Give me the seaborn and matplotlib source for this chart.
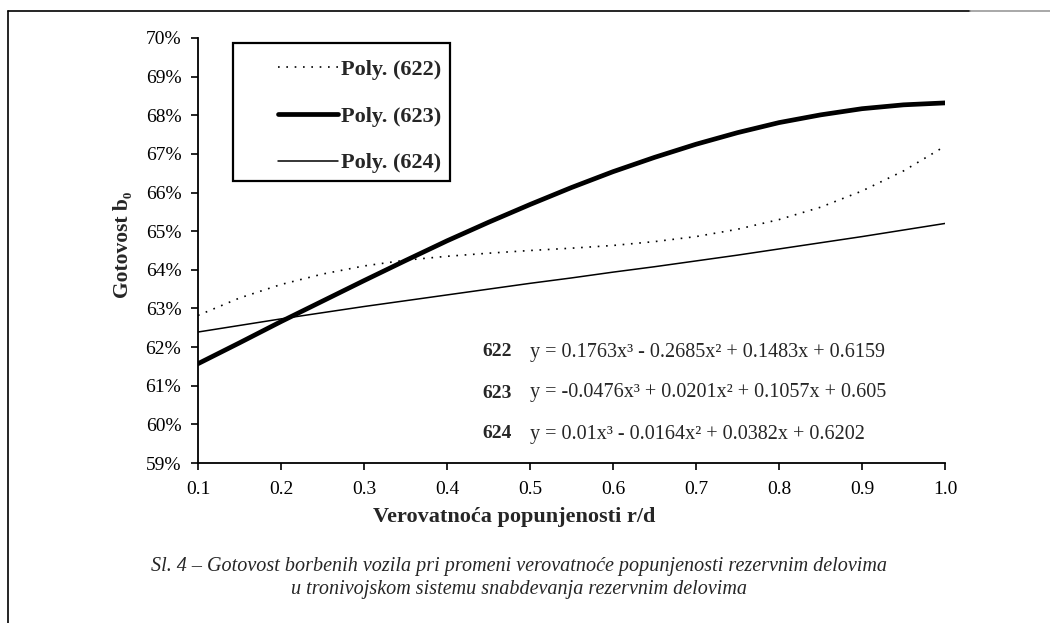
#!/usr/bin/env python3
"""Gotovost borbenih vozila - polinomski trendovi (Sl. 4)."""

import pandas as pd
import matplotlib.pyplot as plt
from matplotlib.lines import Line2D
from matplotlib.patches import Rectangle
from matplotlib.ticker import FuncFormatter
import seaborn as sns

# verovatnoca popunjenosti r/d
x_vals = [0.10, 0.15, 0.20, 0.25, 0.30, 0.35, 0.40, 0.45, 0.50, 0.55,
          0.60, 0.65, 0.70, 0.75, 0.80, 0.85, 0.90, 0.95, 1.00]

# gotovost (%)
poly_622 = [62.82, 63.27, 63.62, 63.89, 64.10, 64.25, 64.35, 64.43, 64.50, 64.56,
            64.63, 64.73, 64.86, 65.05, 65.30, 65.62, 66.04, 66.56, 67.20]
poly_623 = [61.57, 62.11, 62.66, 63.19, 63.72, 64.24, 64.75, 65.23, 65.69, 66.13,
            66.54, 66.91, 67.25, 67.55, 67.81, 68.01, 68.17, 68.27, 68.32]
poly_624 = [62.39, 62.56, 62.73, 62.89, 63.05, 63.20, 63.35, 63.50, 63.65, 63.79,
            63.94, 64.08, 64.23, 64.38, 64.54, 64.70, 64.86, 65.03, 65.20]

series_names = ["Poly. (622)", "Poly. (623)", "Poly. (624)"]
equation_ids = ["622", "623", "624"]
equations = [
    "y = 0.1763x³ - 0.2685x² + 0.1483x + 0.6159",
    "y = -0.0476x³ + 0.0201x² + 0.1057x + 0.605",
    "y = 0.01x³ - 0.0164x² + 0.0382x + 0.6202",
]
x_ticks = [0.1, 0.2, 0.3, 0.4, 0.5, 0.6, 0.7, 0.8, 0.9, 1.0]
y_ticks = [59, 60, 61, 62, 63, 64, 65, 66, 67, 68, 69, 70]

caption = ("Sl. 4 – Gotovost borbenih vozila pri promeni verovatnoće popunjenosti rezervnim delovima\n"
           "u tronivojskom sistemu snabdevanja rezervnim delovima")

sns.set_theme(style="white")
plt.rcParams['font.family'] = ['Liberation Serif', 'DejaVu Serif']

df = pd.DataFrame({"x": x_vals, series_names[0]: poly_622,
                   series_names[1]: poly_623, series_names[2]: poly_624})

W, H = 1050, 623
fig = plt.figure(figsize=(W / 100, H / 100), dpi=100)
ax = fig.add_axes([198 / W, 1 - 463 / H, (945 - 198) / W, (463 - 38) / H])

styles = {
    series_names[0]: dict(linestyle=(0, (1, 4)), linewidth=1.2),
    series_names[1]: dict(linestyle='-', linewidth=3.4),
    series_names[2]: dict(linestyle='-', linewidth=1.1),
}
for name in series_names:
    sns.lineplot(data=df, x="x", y=name, ax=ax, color='black', label=name,
                 **styles[name])

ax.set_xlim(0.1, 1.0)
ax.set_ylim(59, 70)
ax.set_xticks(x_ticks)
ax.set_yticks(y_ticks)
ax.xaxis.set_major_formatter(FuncFormatter(lambda v, p: f"{v:.1f}"))
ax.yaxis.set_major_formatter(FuncFormatter(lambda v, p: f"{v:.0f}%"))
ax.tick_params(axis='both', direction='out', length=5, width=1.2, color='black',
               labelsize=14, labelcolor='black', left=True, bottom=True)
ax.tick_params(axis='y', pad=7)
ax.tick_params(axis='x', pad=8)
for side in ['top', 'right']:
    ax.spines[side].set_visible(False)
for side in ['left', 'bottom']:
    ax.spines[side].set_color('black')
    ax.spines[side].set_linewidth(1.3)
ax.set_xlabel("")
ax.set_ylabel("")

# legend without its own frame, the box is drawn separately
leg = ax.legend(loc='upper left', bbox_to_anchor=(271 / W, 1 - 53 / H),
                bbox_transform=fig.transFigure, frameon=False,
                prop={'weight': 'bold', 'size': 16},
                handlelength=2.7, handletextpad=0.15, labelspacing=1.17,
                borderpad=0.3, borderaxespad=0)
fig.add_artist(Rectangle((233 / W, 1 - 181 / H), (450 - 233) / W, (181 - 43) / H,
                         transform=fig.transFigure, fill=False,
                         edgecolor='black', linewidth=1.6))

# axis labels
fig.text(514 / W, 1 - 517 / H, "Verovatnoća popunjenosti r/d",
         ha='center', va='center', fontsize=16, fontweight='bold')
fig.text(123 / W, 1 - 245 / H, "Gotovost b₀", rotation=90,
         ha='center', va='center', fontsize=15.5, fontweight='bold')

# trend equations
for i, (eid, eq) in enumerate(zip(equation_ids, equations)):
    yy = 1 - (352 + 41 * i) / H
    fig.text(482 / W, yy, eid, ha='left', va='center', fontsize=14,
             fontweight='bold')
    fig.text(530 / W, yy, eq, ha='left', va='center', fontsize=14.5)

# caption
fig.text(519 / W, 1 - 578 / H, caption, ha='center', va='center',
         fontsize=14.5, style='italic', linespacing=1.35)

# page frame
fig.add_artist(Line2D([8 / W, 970 / W], [1 - 11 / H] * 2,
                      transform=fig.transFigure, color='black', linewidth=1.2))
fig.add_artist(Line2D([970 / W, 1.0], [1 - 11 / H] * 2,
                      transform=fig.transFigure, color='#999999', linewidth=1.2))
fig.add_artist(Line2D([8 / W] * 2, [0, 1 - 11 / H],
                      transform=fig.transFigure, color='black', linewidth=1.2))

fig.savefig("out.png", dpi=100)
